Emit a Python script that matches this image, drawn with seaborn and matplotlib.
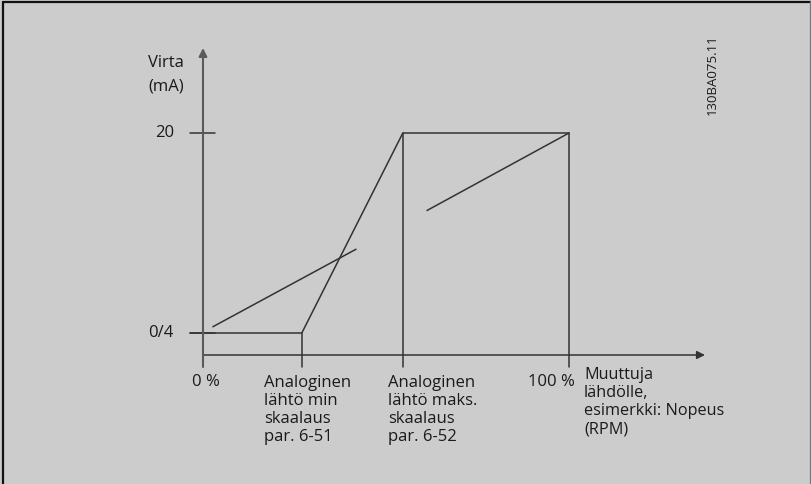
import matplotlib
matplotlib.use("Agg")
import matplotlib.pyplot as plt
import pandas as pd
import seaborn as sns
from matplotlib.lines import Line2D

# output curve: speed (% of range) -> current (mA)
speed_pct = [0, 27, 54.6, 100]
current_ma = [4, 4, 20, 20]

# the two sloped guide lines
slope_a_x = [2.7, 41.8]
slope_a_y = [4.5, 10.7]
slope_b_x = [61.2, 100]
slope_b_y = [13.8, 20]

# marked positions on the x axis
mark_x = [27, 54.6, 100]
mark_top = [4, 20, 20]

y_ticks = [20, 4]
y_tick_labels = ["20", "0/4"]
x_tick_labels = ["0 %", "100 %"]
x_notes = ["Analoginen\nlähtö min\nskaalaus\npar. 6-51",
           "Analoginen\nlähtö maks.\nskaalaus\npar. 6-52"]
x_title = "Muuttuja\nlähdölle,\nesimerkki: Nopeus\n(RPM)"
y_title = "Virta\n(mA)"
drawing_id = "130BA075.11"

sns.set_theme(style="white")
plt.rcParams['font.family'] = ['Open Sans', 'DejaVu Sans']

W, H = 812, 484
fig = plt.figure(figsize=(W / 100, H / 100), dpi=100)
bg = "#cccccc"
fig.patch.set_facecolor(bg)
ax = fig.add_axes([0, 0, 1, 1])
ax.set_facecolor(bg)

# pixel -> data mapping
x0_px, x100_px = 203, 569
y4_px, y20_px = 333, 133
sx = (x100_px - x0_px) / 100
sy = (y4_px - y20_px) / 16


def dx(px):
    return (px - x0_px) / sx


def dy(py):
    return 4 + (y4_px - py) / sy


ax.set_xlim(dx(0), dx(W))
ax.set_ylim(dy(H), dy(0))
ax.axis("off")

line_col = "#333333"
axis_col = "#5a5a5a"
lw = 1.1

axis_y = dy(355)
tick_bottom = dy(367)

# axes with arrows
ax.annotate("", xy=(dx(705), axis_y), xytext=(dx(203), axis_y),
            arrowprops=dict(arrowstyle="-|>", color=line_col, lw=lw,
                            mutation_scale=12, shrinkA=0, shrinkB=0))
ax.annotate("", xy=(0, dy(48)), xytext=(0, tick_bottom),
            arrowprops=dict(arrowstyle="-|>", color=axis_col, lw=1.5,
                            mutation_scale=12, shrinkA=0, shrinkB=0))

# y ticks
for v in y_ticks:
    ax.plot([dx(190), dx(215)], [v, v], color=line_col, lw=lw)

# vertical marks
for xv, top in zip(mark_x, mark_top):
    ax.plot([xv, xv], [top, tick_bottom], color=line_col, lw=lw)

curve = pd.DataFrame({"speed": speed_pct, "current": current_ma})
sns.lineplot(data=curve, x="speed", y="current", sort=False, ax=ax,
             color=line_col, lw=lw)
ax.plot([dx(190), 0], [4, 4], color=line_col, lw=lw)
sns.lineplot(x=slope_a_x, y=slope_a_y, ax=ax, color=line_col, lw=lw)
sns.lineplot(x=slope_b_x, y=slope_b_y, ax=ax, color=line_col, lw=lw)

fs = 12
ls = 1.18
txt = "#1a1a1a"
for v, lab in zip(y_ticks, y_tick_labels):
    ax.text(dx(174), v, lab, ha="right", va="center", fontsize=fs, color=txt)

ax.text(dx(206), dy(382), x_tick_labels[0], ha="center", va="center",
        fontsize=fs, color=txt)
ax.text(dx(575), dy(382), x_tick_labels[1], ha="right", va="center",
        fontsize=fs, color=txt)

ax.text(dx(264), dy(375), x_notes[0], ha="left", va="top", fontsize=fs,
        color=txt, linespacing=ls)
ax.text(dx(388), dy(375), x_notes[1], ha="left", va="top", fontsize=fs,
        color=txt, linespacing=ls)
ax.text(dx(584), dy(367), x_title, ha="left", va="top", fontsize=11.7,
        color=txt, linespacing=ls)
ax.text(dx(166), dy(55), y_title, ha="center", va="top", fontsize=fs,
        color=txt, linespacing=1.6)
ax.text(dx(712), dy(75), drawing_id, ha="center", va="center",
        rotation=90, fontsize=9.5, color=txt)

# frame around the drawing: dark top and left edge, grey right edge
fig.lines.append(Line2D([3 / W, 3 / W], [0, 1 - 2 / H],
                        transform=fig.transFigure, color="#111111", lw=1.6))
fig.lines.append(Line2D([3 / W, 1], [1 - 2 / H, 1 - 2 / H],
                        transform=fig.transFigure, color="#111111", lw=1.6))
fig.lines.append(Line2D([1 - 1 / W, 1 - 1 / W], [0, 1 - 2 / H],
                        transform=fig.transFigure, color="#777777", lw=1.6))

fig.savefig("out.png", dpi=100, facecolor=bg)
